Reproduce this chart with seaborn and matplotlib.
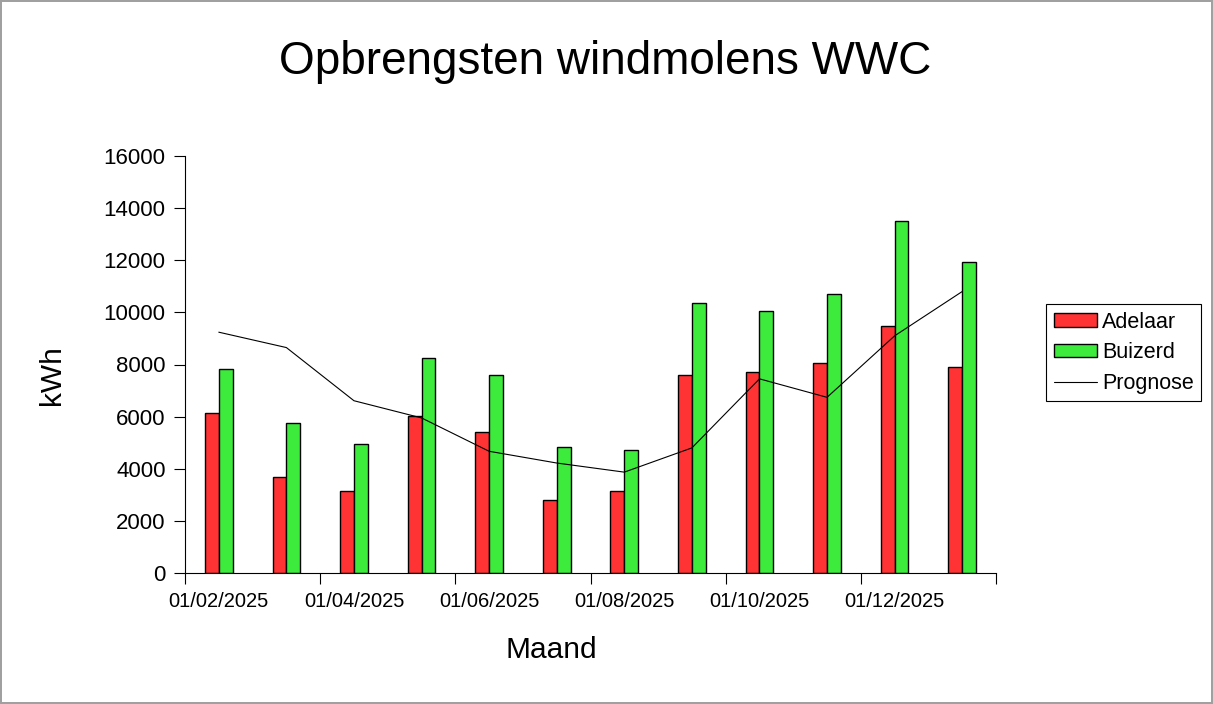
import numpy as np
import pandas as pd
import matplotlib
matplotlib.use("Agg")
import matplotlib.pyplot as plt
import seaborn as sns

maanden = ["01/02/2025", "01/03/2025", "01/04/2025", "01/05/2025", "01/06/2025", "01/07/2025",
           "01/08/2025", "01/09/2025", "01/10/2025", "01/11/2025", "01/12/2025", "01/01/2026"]
adelaar = [6130, 3680, 3140, 6020, 5410, 2800, 3140, 7590, 7710, 8050, 9470, 7900]
buizerd = [7820, 5750, 4950, 8250, 7600, 4830, 4720, 10360, 10050, 10700, 13510, 11930]
prognose = [9240, 8650, 6610, 5950, 4670, 4220, 3870, 4800, 7450, 6740, 9100, 10800]


def main():
    sns.set_style("ticks")
    plt.rcParams['font.family'] = ['Liberation Sans', 'DejaVu Sans']
    plt.rcParams['text.color'] = 'black'
    plt.rcParams['xtick.color'] = 'black'
    plt.rcParams['ytick.color'] = 'black'
    plt.rcParams['axes.labelcolor'] = 'black'

    df = pd.DataFrame({
        "Maand": maanden * 2,
        "kWh": adelaar + buizerd,
        "Molen": ["Adelaar"] * len(maanden) + ["Buizerd"] * len(maanden),
    })

    fig = plt.figure(figsize=(12.13, 7.04), dpi=100)
    fig.patch.set_edgecolor("#a0a0a0")
    fig.patch.set_linewidth(1.5)
    ax = fig.add_axes([185 / 1213, 1 - 573 / 704, (996 - 185) / 1213, (573 - 156) / 704])

    sns.barplot(data=df, x="Maand", y="kWh", hue="Molen", order=maanden,
                palette={"Adelaar": "#FF3333", "Buizerd": "#3DEB3D"},
                width=0.41, gap=0, edgecolor="black", linewidth=1.0,
                saturation=1, legend=False, ax=ax)
    sns.lineplot(x=np.arange(len(maanden)), y=prognose, color="black",
                 linewidth=0.8, ax=ax)

    ax.set_xlim(-0.5, len(maanden) - 0.5)
    ax.set_ylim(0, 16000)
    ax.set_yticks(range(0, 16001, 2000))
    ax.set_xticks(np.arange(-0.5, len(maanden), 2))
    ax.set_xticklabels([])
    ax.set_xticks(np.arange(0, len(maanden), 2), minor=True)
    ax.set_xticklabels(maanden[::2], minor=True)
    ax.tick_params(axis="x", which="minor", length=0, pad=14, labelsize=14.5)
    ax.tick_params(axis="x", which="major", length=8, width=0.8, direction="out")
    ax.tick_params(axis="y", length=8, width=0.8, labelsize=16, pad=6)
    ax.set_xlabel("")
    ax.set_ylabel("")
    for s in ["top", "right"]:
        ax.spines[s].set_visible(False)
    for s in ["left", "bottom"]:
        ax.spines[s].set_linewidth(0.8)
        ax.spines[s].set_color("black")

    fig.text(0.499, 1 - 62 / 704, "Opbrengsten windmolens WWC", fontsize=33,
             ha="center", va="center")
    fig.text(551 / 1213, 1 - 650 / 704, "Maand", fontsize=21.5, ha="center", va="center")
    fig.text(52 / 1213, 1 - 375 / 704, "kWh", fontsize=21.5, ha="center", va="center",
             rotation=90)

    handles = [
        plt.Rectangle((0, 0), 1, 1, facecolor="#FF3333", edgecolor="black", linewidth=1.0),
        plt.Rectangle((0, 0), 1, 1, facecolor="#3DEB3D", edgecolor="black", linewidth=1.0),
        plt.Line2D([0], [0], color="black", linewidth=0.8),
    ]
    leg = fig.legend(handles, ["Adelaar", "Buizerd", "Prognose"],
                     loc="upper left", bbox_to_anchor=(1046 / 1213, 1 - 304 / 704),
                     fontsize=15.5, frameon=True, fancybox=False, framealpha=1,
                     edgecolor="black", handlelength=2.0, handleheight=0.6,
                     handletextpad=0.25, labelspacing=0.45, borderpad=0.35,
                     borderaxespad=0)
    leg.get_frame().set_linewidth(0.8)

    fig.savefig("out.png", dpi=100)


if __name__ == "__main__":
    main()
